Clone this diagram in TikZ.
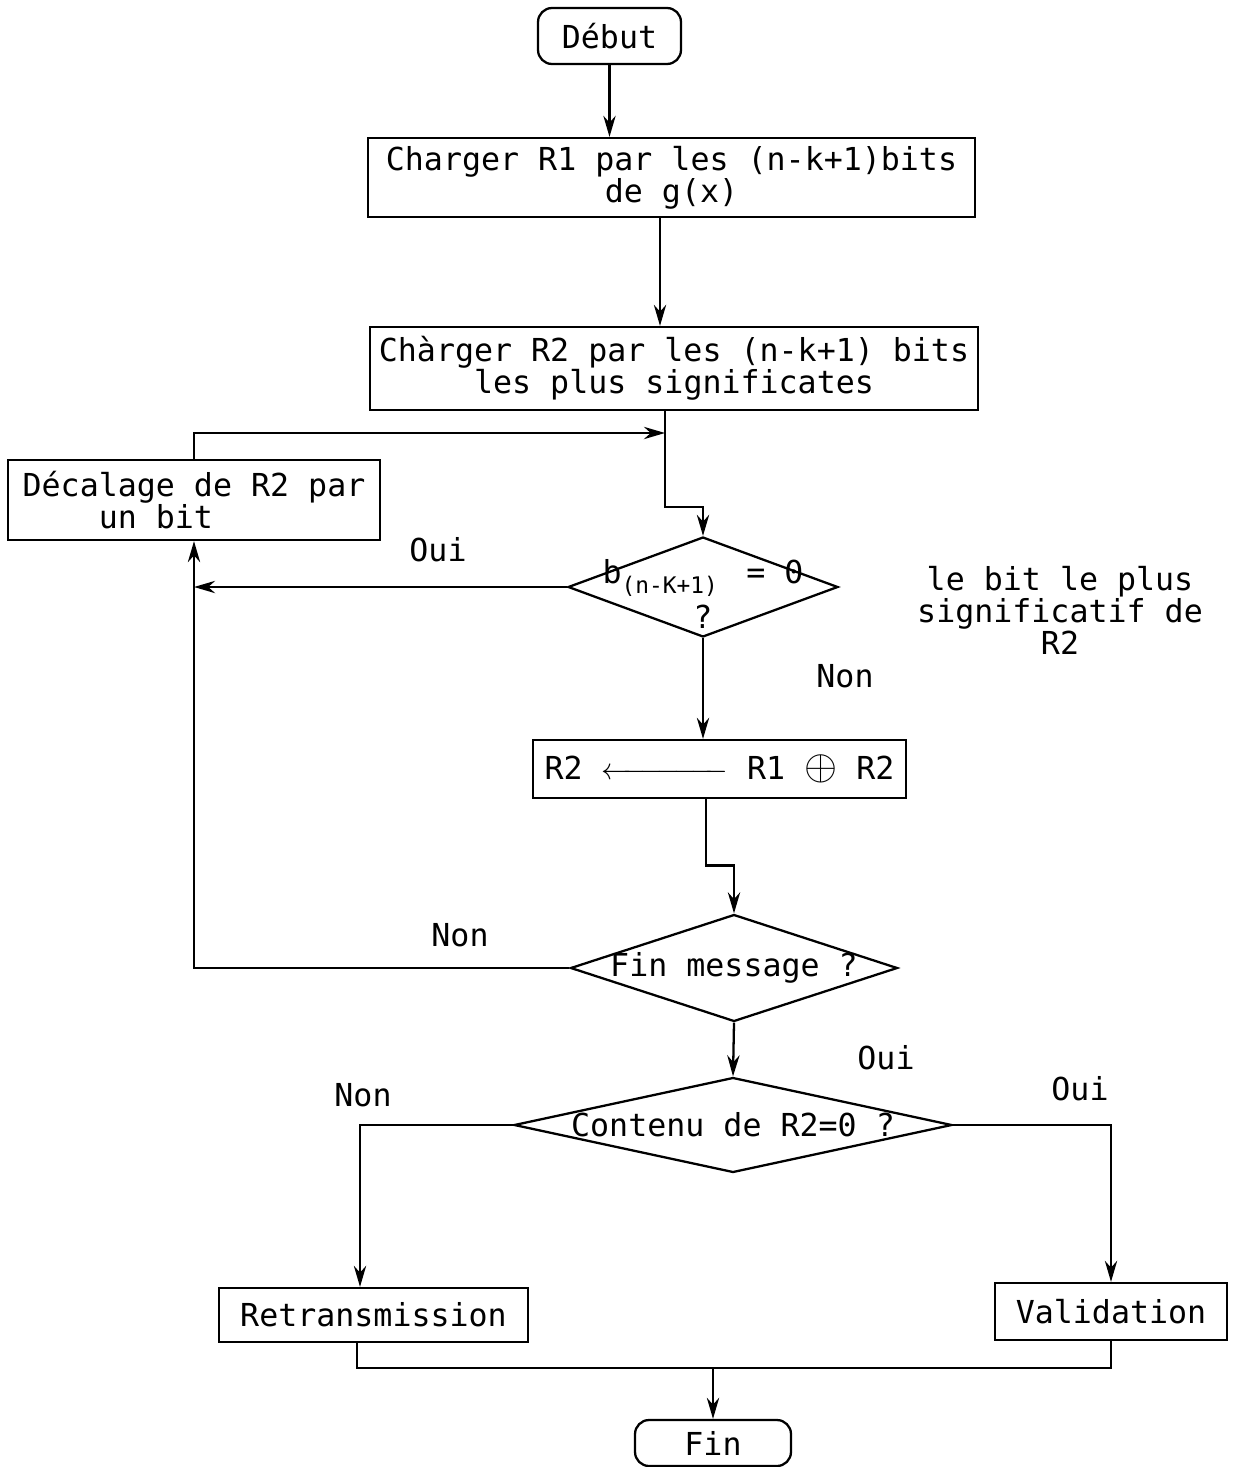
\documentclass[tikz,border=0pt]{standalone}
\usepackage{amsmath}
\usepackage{graphicx}
\usepackage{fontspec}
\setmainfont{DejaVu Sans Mono}
\usetikzlibrary{arrows.meta,positioning,shapes.geometric,calc}

\begin{document}
\begin{tikzpicture}[
        x=0.02cm, y=-0.02cm,
        font=\fontsize{18}{18.2}\selectfont,
        box/.style={rectangle,draw,line width=1.3pt,align=center,inner sep=0pt},
        terminal/.style={box,rounded corners=8pt},
        decision/.style={diamond,draw,line width=1.3pt,inner sep=0pt},
        line/.style={line width=1.3pt},
        arrow/.style={line,-{Stealth[length=12pt,width=7pt]}}
    ]
        \useasboundingbox (0,0) rectangle (1235,1467);

        \node[terminal, minimum width=2.86cm, minimum height=1.12cm] (debut) at (609.5,36) {Début};
        \node[box, minimum width=12.14cm, minimum height=1.58cm] (charge1) at (671.5,177.5) {Charger R1 par les (n-k+1)bits\\de g(x)};
        \node[box, minimum width=12.16cm, minimum height=1.66cm] (charge2) at (674,368.5) {Chàrger R2 par les (n-k+1) bits\\les plus significates};
        \node[box, align=left, minimum width=7.44cm, minimum height=1.6cm] (decalage) at (194,500) {Décalage de R2 par\\\hphantom{xxxx}un bit};
        \node[decision, minimum width=5.4cm, minimum height=2cm,
            label={[align=center,yshift=-0.14cm]center:{b\smash{\raisebox{-0.55ex}{\fontsize{13}{13}\selectfont(n-K+1)}}\hspace{0.9em}= 0\\[0.25cm]?}}] (test1) at (703,587) {};
        \node[box, minimum width=7.46cm, minimum height=1.16cm] (majr2) at (719.5,769) {R2~$\xleftarrow{\hspace{2.2cm}}$~R1~\scalebox{1.4}{$\oplus$}~R2};
        \node[decision, minimum width=6.54cm, minimum height=2.14cm, label=center:{Fin message ?}] (test2) at (734,968) {};
        \node[decision, minimum width=8.76cm, minimum height=1.9cm, label=center:{Contenu de R2=0 ?}] (test3) at (733,1125) {};
        \node[box, minimum width=6.18cm, minimum height=1.08cm] (retrans) at (373.5,1315) {Retransmission};
        \node[box, minimum width=4.64cm, minimum height=1.14cm] (valid) at (1111,1311.5) {Validation};
        \node[terminal, minimum width=3.12cm, minimum height=0.92cm] (fin) at (713,1443) {Fin};

        \node (oui1) at (438,550) {Oui};
        \node (non1) at (845,676) {Non};
        \node[align=center] (note) at (1060,610) {le bit le plus\\significatif de\\R2};
        \node (non2) at (460,935) {Non};
        \node (oui2) at (886,1058) {Oui};
        \node (non3) at (363,1095) {Non};
        \node (oui3) at (1080,1089) {Oui};

        \coordinate (boucle) at (665,433);
        \coordinate (jonction) at (713,1368);

        \draw[arrow] (debut.south) -- (debut.south |- charge1.north);
        \draw[arrow] ([xshift=-0.23cm]charge1.south) -- ([xshift=-0.23cm]charge1.south |- charge2.north);
        \draw[arrow] (decalage.north) |- (boucle);
        \draw[arrow] ([xshift=-0.18cm]charge2.south) |- ($(test1.north)+(0,-29)$) -- (test1.north);
        \draw[arrow] (test1.west) -- (test1.west -| decalage.south);
        \draw[arrow] (test2.west) -| (decalage.south);
        \draw[arrow] (test1.south) -- (test1.south |- majr2.north);
        \draw[arrow] ([xshift=-0.27cm]majr2.south) |- ($(test2.north)+(0,-48)$) -- (test2.north);
        \draw[arrow] (test2.south) -- (test3.north);
        \draw[arrow] (test3.west) -| ([xshift=-0.27cm]retrans.north);
        \draw[arrow] (test3.east) -| (valid.north);
        \draw[line] ([xshift=-0.33cm]retrans.south) |- (jonction) -| (valid.south);
        \draw[arrow] (jonction) -- (fin.north);
    \end{tikzpicture}
\end{document}
